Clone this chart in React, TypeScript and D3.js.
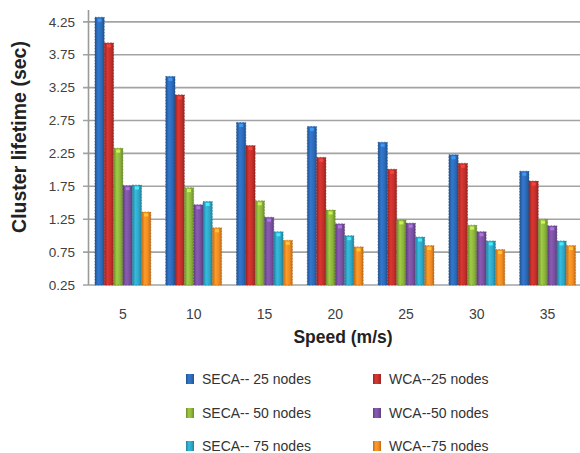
import React from "react";
import * as d3 from "d3";

const speeds = ["5", "10", "15", "20", "25", "30", "35"];
const seriesNames = [
  "SECA-- 25 nodes",
  "WCA--25 nodes",
  "SECA-- 50 nodes",
  "WCA--50 nodes",
  "SECA-- 75 nodes",
  "WCA--75 nodes",
];
const seca25 = [4.32, 3.42, 2.72, 2.66, 2.42, 2.23, 1.98];
const wca25 = [3.93, 3.14, 2.37, 2.19, 2.01, 2.1, 1.83];
const seca50 = [2.33, 1.73, 1.53, 1.39, 1.24, 1.16, 1.25];
const wca50 = [1.76, 1.47, 1.28, 1.18, 1.19, 1.06, 1.15];
const seca75 = [1.77, 1.52, 1.06, 1.0, 0.98, 0.92, 0.92];
const wca75 = [1.36, 1.12, 0.93, 0.83, 0.85, 0.79, 0.85];
const yTicks = [0.25, 0.75, 1.25, 1.75, 2.25, 2.75, 3.25, 3.75, 4.25];

const seriesValues = [seca25, wca25, seca50, wca50, seca75, wca75];
const colors = ["#2c6ab8", "#c2302b", "#8cb43c", "#7a51a0", "#2ea6c6", "#f08a22"];

export default function App() {
  const width = 580;
  const height = 453;
  const left = 87.5;
  const right = 583;
  const top = 10;
  const bottom = 285;

  const y = d3.scaleLinear().domain([0.25, 4.43]).range([bottom, top]);
  const x0 = d3
    .scaleBand<string>()
    .domain(speeds)
    .range([left, right])
    .paddingInner(0.21)
    .paddingOuter(0.105);
  const x1 = d3
    .scaleBand<number>()
    .domain(d3.range(seriesNames.length))
    .range([0, x0.bandwidth()]);

  const font = "'Liberation Sans', Arial, sans-serif";

  const legendRows = [379, 413, 446];
  const legendCols = [186, 373];

  return (
    <svg
      width={width}
      height={height}
      style={{ position: "absolute", left: 0, top: 0, background: "#fff" }}
      fontFamily={font}
    >
      <defs>
        {colors.map((c, i) => {
          const dark = d3.color(c)!.darker(0.7).formatHex();
          const light = d3.color(c)!.brighter(0.35).formatHex();
          return (
            <linearGradient key={i} id={`g${i}`} x1="0" x2="1" y1="0" y2="0">
              <stop offset="0%" stopColor={dark} />
              <stop offset="35%" stopColor={light} />
              <stop offset="70%" stopColor={c} />
              <stop offset="100%" stopColor={dark} />
            </linearGradient>
          );
        })}
      </defs>

      {/* horizontal gridlines and tick marks */}
      {yTicks.map((t) => (
        <g key={t}>
          <line
            x1={83}
            x2={width}
            y1={y(t)}
            y2={y(t)}
            stroke="#a3a3a3"
            strokeWidth={1.6}
          />
          <text
            x={75}
            y={y(t)}
            dy="0.35em"
            textAnchor="end"
            fontSize={13.5}
            fill="#404040"
          >
            {t.toFixed(2)}
          </text>
        </g>
      ))}
      <line x1={left + 1} x2={left + 1} y1={top} y2={bottom} stroke="#9a9a9a" strokeWidth={1.6} />

      {/* bars */}
      {speeds.map((s, gi) => (
        <g key={s} transform={`translate(${x0(s)},0)`}>
          {seriesValues.map((vals, si) => {
            const v = vals[gi];
            const bx = x1(si)!;
            const bw = x1.bandwidth();
            const by = y(v);
            const c = colors[si];
            return (
              <g key={si}>
                <rect
                  x={bx}
                  y={by}
                  width={bw}
                  height={bottom - by}
                  fill={`url(#g${si})`}
                  stroke={d3.color(c)!.darker(0.8).formatHex()}
                  strokeWidth={0.6}
                  strokeDasharray="1.5 1.5"
                />
                <rect
                  x={bx + bw / 2 - 2}
                  y={by + 1.5}
                  width={4}
                  height={3}
                  fill={d3.color(c)!.brighter(1.2).formatHex()}
                  opacity={0.8}
                />
              </g>
            );
          })}
        </g>
      ))}

      {/* x tick labels */}
      {speeds.map((s) => (
        <text
          key={s}
          x={x0(s)! + x0.bandwidth() / 2}
          y={314}
          dy="0.35em"
          textAnchor="middle"
          fontSize={14}
          fill="#404040"
        >
          {s}
        </text>
      ))}

      {/* axis titles */}
      <text
        x={343}
        y={337}
        dy="0.35em"
        textAnchor="middle"
        fontSize={17.5}
        fontWeight="bold"
        fill="#222"
      >
        Speed (m/s)
      </text>
      <text
        transform={`translate(19,137) rotate(-90)`}
        dy="0.35em"
        textAnchor="middle"
        fontSize={19.5}
        fontWeight="bold"
        fill="#222"
      >
        Cluster lifetime (sec)
      </text>

      {/* legend */}
      {seriesNames.map((name, i) => {
        const lx = legendCols[i % 2];
        const ly = legendRows[Math.floor(i / 2)];
        return (
          <g key={name}>
            <rect
              x={lx}
              y={ly - 5}
              width={8}
              height={10}
              fill={`url(#g${i})`}
            />
            <text x={lx + 16} y={ly} dy="0.35em" fontSize={14} fill="#333">
              {name}
            </text>
          </g>
        );
      })}
    </svg>
  );
}
